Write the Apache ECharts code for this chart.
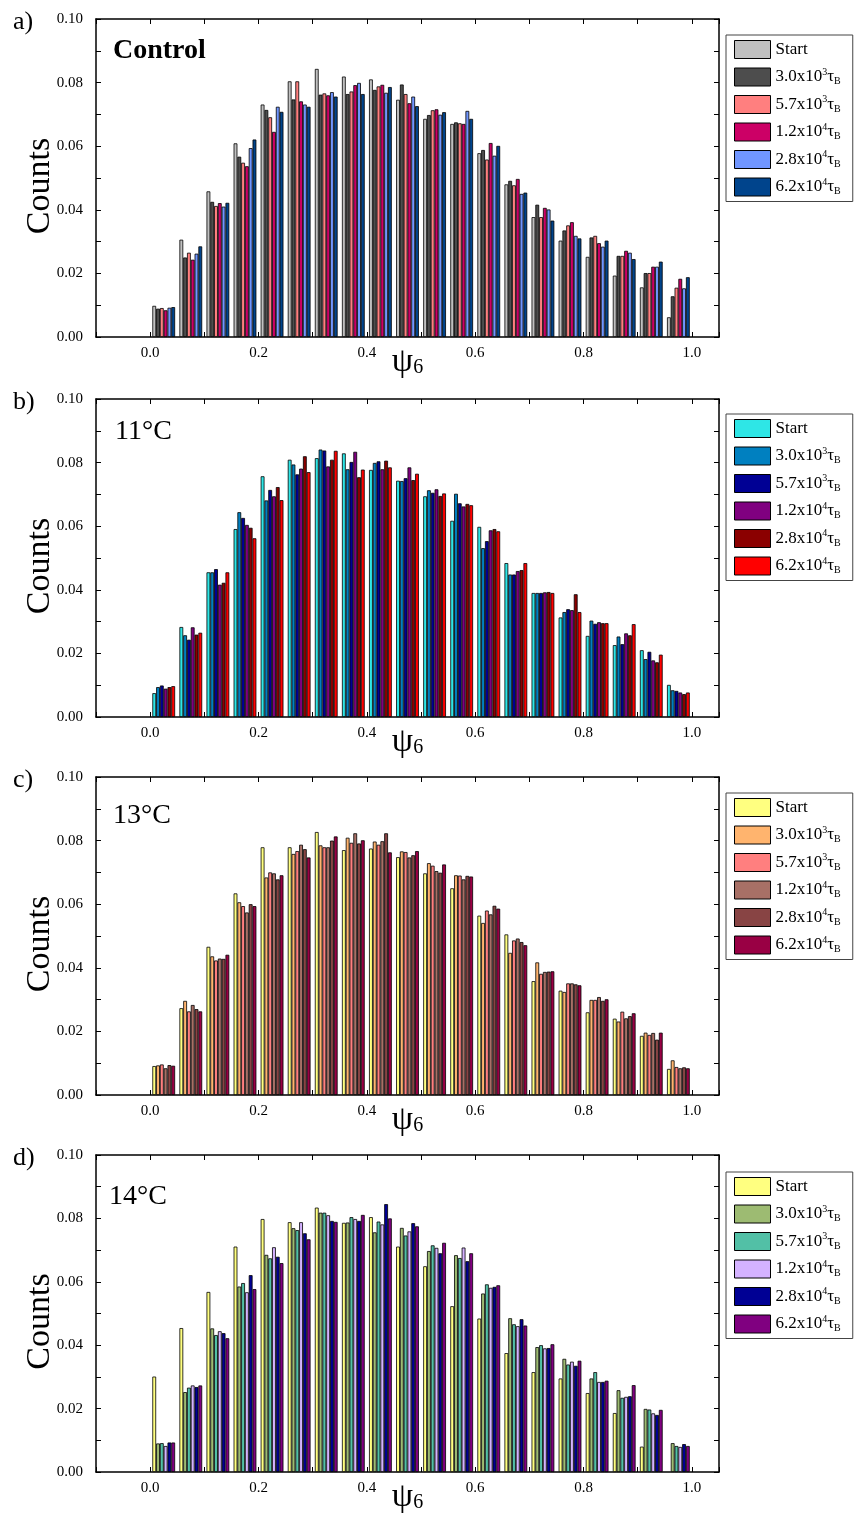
<!DOCTYPE html>
<html>
<head>
<meta charset="utf-8">
<script src="https://cdn.jsdelivr.net/npm/echarts@6.0.0/dist/echarts.min.js"></script>
<style>
  html, body { margin: 0; padding: 0; background: #fff; }
  #chart { width: 856px; height: 1530px; }
</style>
</head>
<body>
<div id="chart"></div>
<script>
// Bin centres of the psi_6 histogram (bin width 0.05)
const psiBins = [0.025, 0.075, 0.125, 0.175, 0.225, 0.275, 0.325, 0.375, 0.425, 0.475,
                 0.525, 0.575, 0.625, 0.675, 0.725, 0.775, 0.825, 0.875, 0.925, 0.975];

// Legend entries (rich text: e = exponent, b = subscript)
const stageLabels = ['Start', '3.0x10{e|3}τ{b|B}', '5.7x10{e|3}τ{b|B}',
                     '1.2x10{e|4}τ{b|B}', '2.8x10{e|4}τ{b|B}', '6.2x10{e|4}τ{b|B}'];

// Y tick values and X tick values
const countTicks = { min: 0, max: 0.10, step: 0.01 };
const psiTicks = { min: -0.1, max: 1.05, step: 0.1 };

// Control: one row per stage (Start, 3.0e3, 5.7e3, 1.2e4, 2.8e4, 6.2e4)
const controlCounts = [
  [0.0098, 0.0306, 0.0458, 0.0609, 0.0731, 0.0804, 0.0843, 0.0819, 0.0810, 0.0746, 0.0686, 0.0670, 0.0578, 0.0480, 0.0377, 0.0303, 0.0252, 0.0193, 0.0156, 0.0062],
  [0.0089, 0.0250, 0.0425, 0.0567, 0.0714, 0.0747, 0.0762, 0.0764, 0.0777, 0.0794, 0.0698, 0.0675, 0.0588, 0.0491, 0.0416, 0.0335, 0.0313, 0.0255, 0.0201, 0.0128],
  [0.0091, 0.0265, 0.0412, 0.0548, 0.0691, 0.0804, 0.0766, 0.0772, 0.0788, 0.0764, 0.0713, 0.0672, 0.0558, 0.0477, 0.0377, 0.0351, 0.0318, 0.0255, 0.0201, 0.0155],
  [0.0084, 0.0243, 0.0421, 0.0537, 0.0645, 0.0741, 0.0760, 0.0792, 0.0793, 0.0735, 0.0716, 0.0670, 0.0610, 0.0497, 0.0406, 0.0361, 0.0295, 0.0271, 0.0221, 0.0183],
  [0.0092, 0.0262, 0.0410, 0.0594, 0.0724, 0.0731, 0.0770, 0.0799, 0.0768, 0.0756, 0.0699, 0.0711, 0.0570, 0.0450, 0.0401, 0.0318, 0.0284, 0.0265, 0.0221, 0.0153],
  [0.0094, 0.0285, 0.0422, 0.0621, 0.0708, 0.0724, 0.0756, 0.0764, 0.0786, 0.0726, 0.0707, 0.0686, 0.0601, 0.0454, 0.0366, 0.0310, 0.0303, 0.0245, 0.0237, 0.0188]
];

// 11 °C
const t11Counts = [
  [0.0075, 0.0283, 0.0455, 0.0591, 0.0757, 0.0809, 0.0814, 0.0829, 0.0777, 0.0743, 0.0694, 0.0617, 0.0598, 0.0484, 0.0390, 0.0313, 0.0255, 0.0226, 0.0210, 0.0101],
  [0.0094, 0.0257, 0.0455, 0.0644, 0.0681, 0.0794, 0.0841, 0.0779, 0.0799, 0.0742, 0.0713, 0.0702, 0.0531, 0.0448, 0.0390, 0.0330, 0.0303, 0.0253, 0.0182, 0.0084],
  [0.0099, 0.0243, 0.0465, 0.0626, 0.0714, 0.0763, 0.0838, 0.0802, 0.0804, 0.0751, 0.0705, 0.0672, 0.0553, 0.0448, 0.0390, 0.0339, 0.0293, 0.0229, 0.0205, 0.0082],
  [0.0089, 0.0282, 0.0416, 0.0604, 0.0694, 0.0781, 0.0788, 0.0834, 0.0779, 0.0785, 0.0716, 0.0662, 0.0587, 0.0459, 0.0392, 0.0336, 0.0298, 0.0263, 0.0178, 0.0077],
  [0.0094, 0.0259, 0.0422, 0.0595, 0.0723, 0.0820, 0.0809, 0.0754, 0.0806, 0.0745, 0.0695, 0.0670, 0.0591, 0.0462, 0.0393, 0.0386, 0.0295, 0.0257, 0.0172, 0.0072],
  [0.0097, 0.0265, 0.0455, 0.0562, 0.0682, 0.0770, 0.0837, 0.0778, 0.0785, 0.0765, 0.0703, 0.0666, 0.0584, 0.0484, 0.0390, 0.0330, 0.0295, 0.0292, 0.0196, 0.0077]
];

// 13 °C
const t13Counts = [
  [0.0091, 0.0273, 0.0466, 0.0634, 0.0779, 0.0779, 0.0827, 0.0770, 0.0775, 0.0748, 0.0697, 0.0650, 0.0564, 0.0505, 0.0358, 0.0328, 0.0260, 0.0240, 0.0186, 0.0082],
  [0.0093, 0.0296, 0.0436, 0.0606, 0.0684, 0.0758, 0.0785, 0.0809, 0.0797, 0.0766, 0.0729, 0.0691, 0.0541, 0.0447, 0.0417, 0.0324, 0.0299, 0.0231, 0.0196, 0.0109],
  [0.0096, 0.0263, 0.0423, 0.0594, 0.0700, 0.0767, 0.0779, 0.0793, 0.0787, 0.0764, 0.0721, 0.0690, 0.0580, 0.0486, 0.0381, 0.0351, 0.0299, 0.0262, 0.0189, 0.0088],
  [0.0084, 0.0283, 0.0429, 0.0574, 0.0697, 0.0787, 0.0779, 0.0823, 0.0798, 0.0747, 0.0704, 0.0678, 0.0568, 0.0492, 0.0387, 0.0351, 0.0308, 0.0241, 0.0195, 0.0084],
  [0.0094, 0.0270, 0.0428, 0.0600, 0.0678, 0.0773, 0.0800, 0.0791, 0.0823, 0.0754, 0.0699, 0.0689, 0.0595, 0.0481, 0.0388, 0.0348, 0.0296, 0.0248, 0.0174, 0.0087],
  [0.0092, 0.0263, 0.0441, 0.0594, 0.0691, 0.0747, 0.0813, 0.0801, 0.0763, 0.0767, 0.0725, 0.0687, 0.0586, 0.0471, 0.0389, 0.0345, 0.0301, 0.0257, 0.0196, 0.0084]
];

// 14 °C (no Start count in the last bin)
const t14Counts = [
  [0.0301, 0.0454, 0.0568, 0.0711, 0.0798, 0.0788, 0.0834, 0.0786, 0.0804, 0.0711, 0.0649, 0.0523, 0.0484, 0.0375, 0.0315, 0.0295, 0.0249, 0.0186, 0.0080, null],
  [0.0090, 0.0252, 0.0453, 0.0585, 0.0685, 0.0769, 0.0818, 0.0787, 0.0756, 0.0770, 0.0697, 0.0684, 0.0563, 0.0485, 0.0394, 0.0357, 0.0295, 0.0258, 0.0199, 0.0091],
  [0.0091, 0.0266, 0.0432, 0.0596, 0.0674, 0.0763, 0.0818, 0.0804, 0.0790, 0.0746, 0.0715, 0.0675, 0.0592, 0.0466, 0.0400, 0.0339, 0.0315, 0.0234, 0.0197, 0.0082],
  [0.0082, 0.0273, 0.0444, 0.0567, 0.0709, 0.0788, 0.0810, 0.0798, 0.0781, 0.0759, 0.0707, 0.0708, 0.0581, 0.0460, 0.0390, 0.0348, 0.0284, 0.0237, 0.0185, 0.0079],
  [0.0093, 0.0268, 0.0438, 0.0621, 0.0679, 0.0753, 0.0792, 0.0792, 0.0845, 0.0785, 0.0690, 0.0665, 0.0584, 0.0482, 0.0391, 0.0335, 0.0284, 0.0239, 0.0180, 0.0088],
  [0.0093, 0.0273, 0.0422, 0.0577, 0.0659, 0.0734, 0.0789, 0.0811, 0.0800, 0.0775, 0.0723, 0.0690, 0.0589, 0.0462, 0.0403, 0.0351, 0.0288, 0.0274, 0.0196, 0.0082]
];

const controlColors = ['#C0C0C0', '#4D4D4D', '#FF7F7F', '#CC0066', '#7096FF', '#00448C'];
const t11Colors     = ['#2EE6E6', '#0080C0', '#000094', '#800080', '#8B0000', '#FF0000'];
const t13Colors     = ['#FFFF80', '#FFB46E', '#FF7F7F', '#A87066', '#884444', '#990044'];
const t14Colors     = ['#FFFF80', '#9DBB72', '#52C0A6', '#D4B2FF', '#000094', '#800080'];

const FONT = "'Liberation Serif', 'Times New Roman', serif";

const panels = [
  { key: 'a', title: 'Control', bold: true, counts: controlCounts, colors: controlColors,
    top: 19, height: 318, titleLeft: 108, titleTop: 32, legendTop: 35 },
  { key: 'b', title: '11°C', bold: false, counts: t11Counts, colors: t11Colors,
    top: 399, height: 318, titleLeft: 110, titleTop: 413, legendTop: 414 },
  { key: 'c', title: '13°C', bold: false, counts: t13Counts, colors: t13Colors,
    top: 777, height: 318, titleLeft: 108, titleTop: 797, legendTop: 793 },
  { key: 'd', title: '14°C', bold: false, counts: t14Counts, colors: t14Colors,
    top: 1155, height: 317, titleLeft: 104, titleTop: 1178, legendTop: 1172 }
];

const isMultiple = (v, step) => Math.abs(v / step - Math.round(v / step)) < 1e-6;

const grid = [], xAxis = [], yAxis = [], series = [], legend = [], title = [];
const legendNameMap = {};

panels.forEach((p, i) => {
  grid.push({ left: 96, width: 623, top: p.top, height: p.height });

  const axisLine = { show: true, onZero: false, lineStyle: { color: '#000', width: 1.5 } };
  const axisTick = { show: true, inside: true, length: 5, lineStyle: { color: '#000', width: 1 } };

  // bottom x axis with labels, top mirror with ticks only
  xAxis.push({
    gridIndex: i, type: 'value', position: 'bottom',
    min: psiTicks.min, max: psiTicks.max, interval: psiTicks.step,
    axisLine, axisTick, splitLine: { show: false },
    axisLabel: {
      color: '#000', fontFamily: FONT, fontSize: 15, margin: 9,
      formatter: v => (isMultiple(v, 0.2) ? v.toFixed(1) : '')
    },
    name: '{p|ψ}{s|6}', nameLocation: 'middle', nameGap: 8, nameMoveOverlap: false,
    nameTextStyle: {
      rich: {
        p: { fontFamily: FONT, fontSize: 34, color: '#000' },
        s: { fontFamily: FONT, fontSize: 20, color: '#000', padding: [12, 0, 0, 0] }
      }
    }
  });
  xAxis.push({
    gridIndex: i, type: 'value', position: 'top',
    min: psiTicks.min, max: psiTicks.max, interval: psiTicks.step,
    axisLine, axisTick, axisLabel: { show: false }, splitLine: { show: false }
  });

  // left y axis with labels, right mirror with ticks only
  yAxis.push({
    gridIndex: i, type: 'value', position: 'left',
    min: countTicks.min, max: countTicks.max, interval: countTicks.step,
    axisLine, axisTick, splitLine: { show: false },
    axisLabel: {
      color: '#000', fontFamily: FONT, fontSize: 15, margin: 13,
      formatter: v => (isMultiple(v, 0.02) ? v.toFixed(2) : '')
    },
    name: 'Counts', nameLocation: 'middle', nameRotate: 90, nameGap: 39, nameMoveOverlap: false,
    nameTextStyle: { fontFamily: FONT, fontSize: 34, color: '#000', padding: [0, 16, 0, 0] }
  });
  yAxis.push({
    gridIndex: i, type: 'value', position: 'right',
    min: countTicks.min, max: countTicks.max, interval: countTicks.step,
    axisLine, axisTick, axisLabel: { show: false }, splitLine: { show: false }
  });

  const names = [];
  p.counts.forEach((row, s) => {
    const name = p.key + ':' + s;
    names.push(name);
    legendNameMap[name] = stageLabels[s];
    series.push({
      type: 'bar', name,
      xAxisIndex: 2 * i, yAxisIndex: 2 * i,
      data: psiBins.map((x, k) => [x, row[k]]),
      barGap: '0%', barCategoryGap: '16%',
      itemStyle: { color: p.colors[s], borderColor: '#000', borderWidth: 0.8 },
      emphasis: { disabled: true },
      silent: true
    });
  });

  legend.push({
    orient: 'vertical', left: 726, top: p.legendTop,
    data: names, icon: 'rect', itemWidth: 36, itemHeight: 18, itemGap: 8,
    padding: [5, 12, 5, 8], borderColor: '#444', borderWidth: 1,
    selectedMode: false,
    itemStyle: { borderColor: '#000', borderWidth: 1 },
    formatter: n => legendNameMap[n],
    textStyle: {
      fontFamily: FONT, fontSize: 17, color: '#000',
      rich: {
        e: { fontFamily: FONT, fontSize: 10, color: '#000', padding: [0, 0, 10, 0] },
        b: { fontFamily: FONT, fontSize: 10, color: '#000', padding: [9, 0, 0, 0] }
      }
    }
  });

  title.push({
    text: p.key + ')', left: 8, top: p.top - 15,
    textStyle: { fontFamily: FONT, fontSize: 26, fontWeight: 'normal', color: '#000' }
  });
  title.push({
    text: p.title, left: p.titleLeft, top: p.titleTop,
    textStyle: { fontFamily: FONT, fontSize: 28, fontWeight: p.bold ? 'bold' : 'normal', color: '#000' }
  });
});

const chart = echarts.init(document.getElementById('chart'), null, { renderer: 'canvas' });
chart.setOption({
  animation: false,
  backgroundColor: '#fff',
  title, grid, xAxis, yAxis, legend, series
});
</script>
</body>
</html>
